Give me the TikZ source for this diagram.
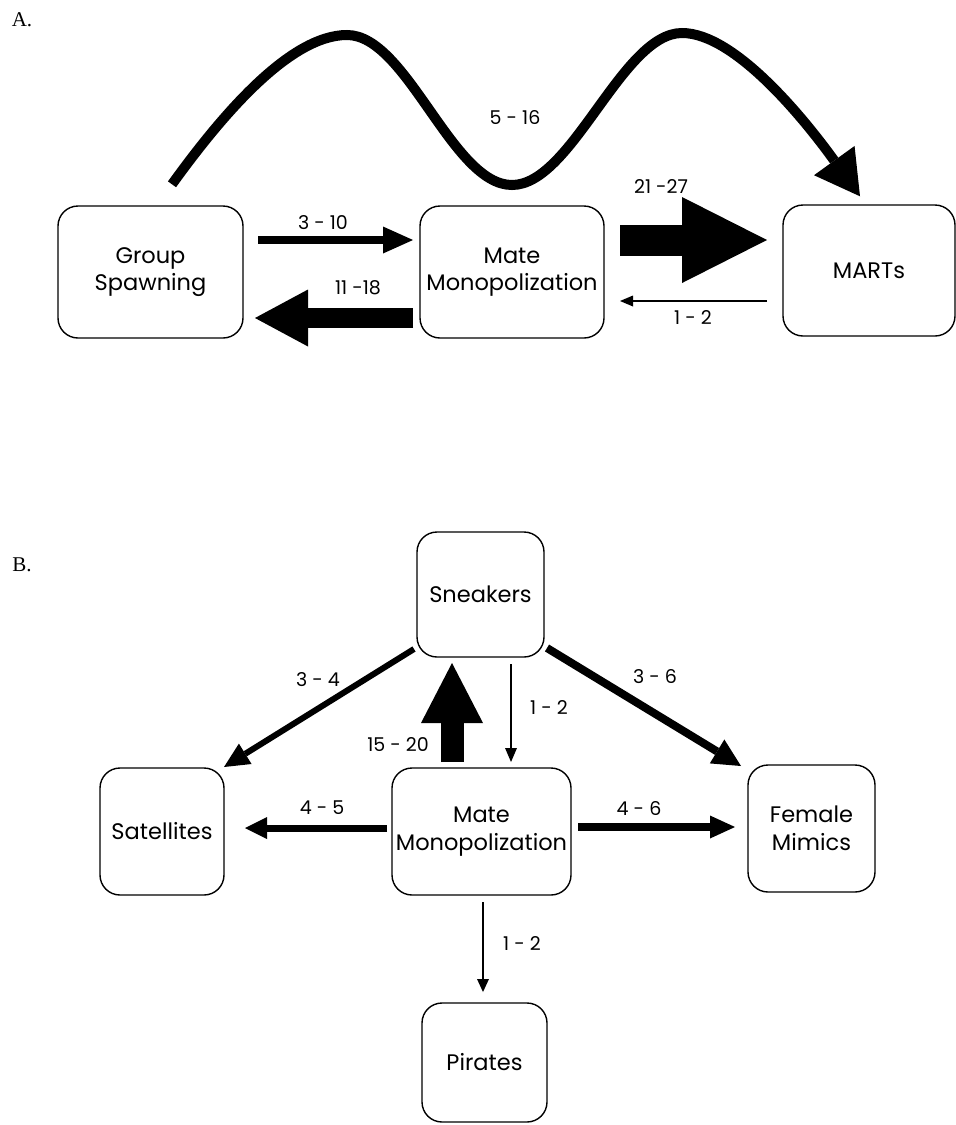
\documentclass[tikz,border=0pt]{standalone}
\usepackage{fontspec}
\setmainfont{Poppins}
\newfontfamily\numfont[Numbers=Monospaced]{Poppins}
\newfontfamily\seriffont{Liberation Serif}
\usetikzlibrary{arrows.meta,calc}
\tikzset{
  box/.style={draw, line width=1.4pt, rounded corners=20pt, align=center,
    font=\fontsize{22.5}{27.5}\selectfont, inner sep=0pt},
  lbl/.style={font=\numfont\fontsize{19}{21}\selectfont, inner sep=0pt},
  panel/.style={font=\seriffont\fontsize{21}{22}\selectfont, inner sep=0pt},
  flow/.style n args={3}{line width=#1pt,
    -{Triangle[length=#2pt,width=#3pt,line width=0pt]}}
}
\begin{document}
\begin{tikzpicture}[x=1pt,y=-1pt]
\useasboundingbox (0,0) rectangle (956,1125);
% ---------- Panel A ----------
\node[panel] (la) at (22,20) {A.};
\node[box, minimum width=185pt, minimum height=132pt] (gs) at (150.5,272) {Group\\Spawning};
\node[box, minimum width=184pt, minimum height=132pt] (mmA) at (512,272) {Mate\\Monopolization};
\node[box, minimum width=172pt, minimum height=131pt] (mart) at (869,270.5) {MARTs};

\coordinate (ws) at ($(gs.north)+(21.5,-21)$);
\draw[flow={10}{44}{50}] (ws) .. controls (222,115) and (290,35) .. (347,35)
  .. controls (407,35) and (452,185) .. (512,185)
  .. controls (572,185) and (622,33) .. (682,33)
  .. controls (735,33) and (805,120) .. ($(mart.north)+(-9,-8)$);
\node[lbl] (l516) at (515,118) {5 - 16};

\draw[flow={8}{30}{27}] ($(gs.center)+(107.5,-32)$) -- ($(mmA.center)+(-99,-32)$);
\node[lbl] (l310) at (323,223) {3 - 10};
\draw[flow={20}{53}{57}] ($(mmA.center)+(-99,46)$) -- ($(gs.center)+(104.5,46)$);
\node[lbl] (l1118) at (358,288) {11 -18};
\draw[flow={31}{85}{86}] ($(mmA.center)+(108,-32)$) -- ($(mart.center)+(-102,-30.5)$);
\node[lbl] (l2127) at (661,187) {21 -27};
\draw[flow={2}{13}{11}] ($(mart.center)+(-102,30.5)$) -- ($(mmA.center)+(108,29)$);
\node[lbl] (l12a) at (693,318) {1 - 2};

% ---------- Panel B ----------
\node[panel] (lb) at (22,565) {B.};
\node[box, minimum width=127pt, minimum height=125pt] (sn) at (480.5,594.5) {Sneakers};
\node[box, minimum width=124pt, minimum height=127pt] (sat) at (162,831.5) {Satellites};
\node[box, minimum width=179pt, minimum height=127pt] (mmB) at (481.5,831.5) {Mate\\Monopolization};
\node[box, minimum width=127pt, minimum height=127pt] (fem) at (811.5,828.5) {Female\\Mimics};
\node[box, minimum width=125pt, minimum height=119pt] (pir) at (484.5,1062.5) {Pirates};

\draw[flow={6}{25}{24}] ($(sn.center)+(-66.5,54.5)$) -- ($(sat.center)+(62,-64.5)$);
\node[lbl] (l34) at (318,680) {3 - 4};
\draw[flow={8}{28}{28}] ($(sn.center)+(66.5,53.5)$) -- ($(fem.center)+(-70.5,-62.5)$);
\node[lbl] (l36) at (655,677) {3 - 6};
\draw[flow={23}{60}{62}] ($(mmB.center)+(-29.5,-69.5)$) -- ($(sn.center)+(-28.5,68.5)$);
\node[lbl] (l1520) at (398,745) {15 - 20};
\draw[flow={2}{14}{12}] ($(sn.center)+(30.5,69.5)$) -- ($(mmB.center)+(29.5,-69.5)$);
\node[lbl] (l12b) at (549,707) {1 - 2};
\draw[flow={7}{22}{22}] ($(mmB.center)+(-94.5,-3.5)$) -- ($(sat.center)+(83,-3.5)$);
\node[lbl] (l45) at (322,808) {4 - 5};
\draw[flow={8}{25}{23}] ($(mmB.center)+(96.5,-4.5)$) -- ($(fem.center)+(-76.5,-1.5)$);
\node[lbl] (l46) at (639,808) {4 - 6};
\draw[flow={2}{13}{12}] ($(mmB.center)+(1.5,70.5)$) -- ($(pir.center)+(-1.5,-70.5)$);
\node[lbl] (l12c) at (522,943) {1 - 2};
\end{tikzpicture}
\end{document}
